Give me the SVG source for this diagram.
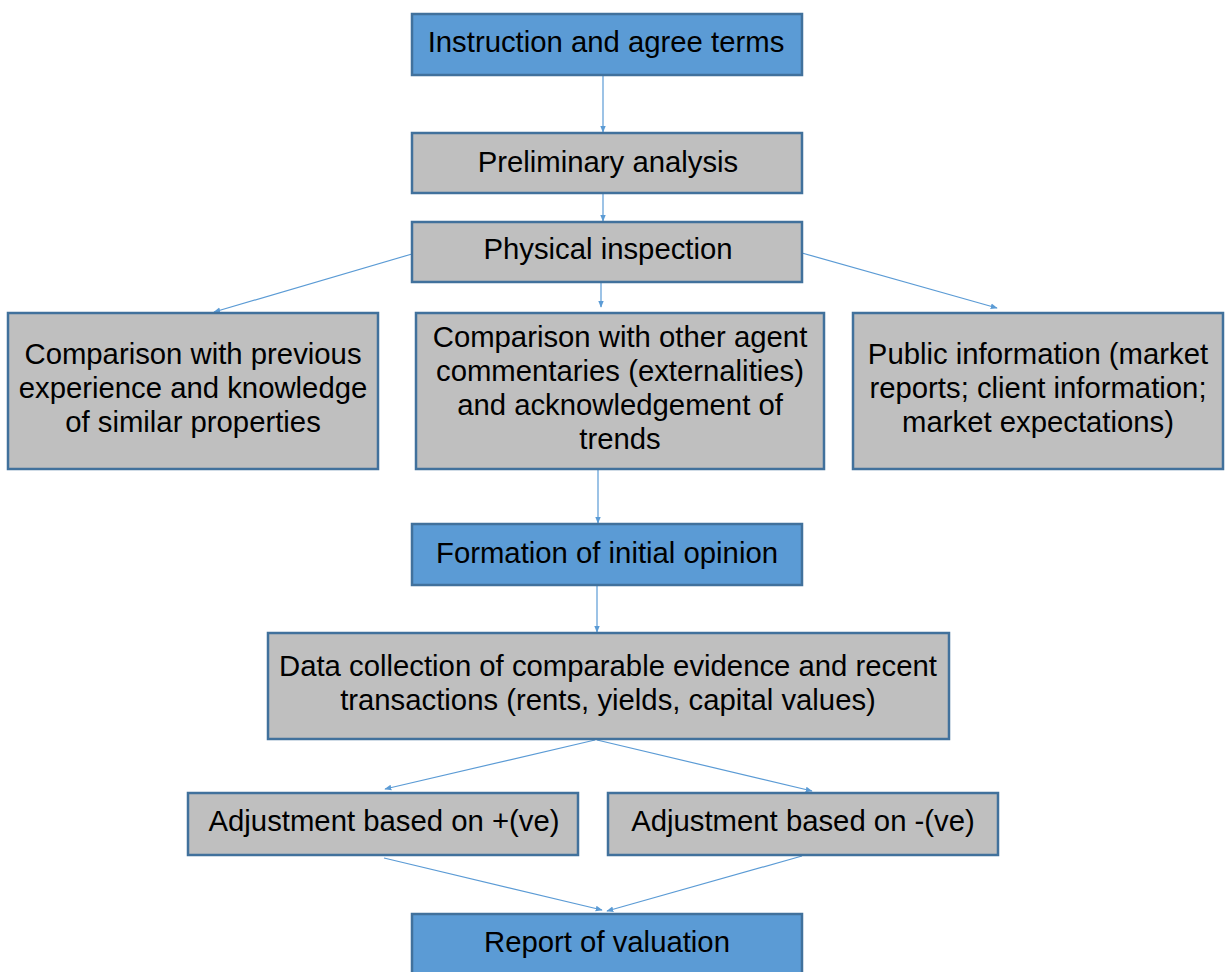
<svg xmlns="http://www.w3.org/2000/svg" width="1229" height="972" viewBox="0 0 1229 972">
  <style>
    .box rect { stroke: #41719c; stroke-width: 2.5; }
    .blue rect { fill: #5b9bd5; }
    .grey rect { fill: #bfbfbf; }
    text { font-family: "Liberation Sans", Arial, sans-serif; font-size: 29.3px; fill: #000; text-anchor: middle; }
    .conn line { stroke: #5b9bd5; stroke-width: 1.2; fill: none; marker-end: url(#arr); }
  </style>
  <defs>
    <marker id="arr" viewBox="0 0 10 10" refX="9" refY="5" markerWidth="7" markerHeight="7" orient="auto" markerUnits="userSpaceOnUse">
      <path d="M0,1 L10,5 L0,9 Z" fill="#5b9bd5"/>
    </marker>
  </defs>
  <rect width="1229" height="972" fill="#fff"/>

  <g class="conn">
    <line x1="603" y1="76" x2="603" y2="132"/>
    <line x1="603" y1="194" x2="603" y2="221"/>
    <line x1="412" y1="254" x2="214" y2="312"/>
    <line x1="601" y1="283" x2="601" y2="307"/>
    <line x1="802" y1="253" x2="997" y2="308"/>
    <line x1="598" y1="470" x2="598" y2="523"/>
    <line x1="597" y1="586" x2="597" y2="632"/>
    <line x1="595" y1="740" x2="385" y2="789"/>
    <line x1="597" y1="740" x2="812" y2="791"/>
    <line x1="384" y1="858" x2="602" y2="910"/>
    <line x1="802" y1="856" x2="607" y2="911"/>
  </g>

  <g id="instruction" class="box blue">
    <rect x="412" y="14" width="390" height="61"/>
    <text x="606" y="52">Instruction and agree terms</text>
  </g>
  <g id="preliminary" class="box grey">
    <rect x="412" y="133" width="390" height="60"/>
    <text x="608" y="172">Preliminary analysis</text>
  </g>
  <g id="inspection" class="box grey">
    <rect x="412" y="222" width="390" height="60"/>
    <text x="608" y="259">Physical inspection</text>
  </g>
  <g id="previous-experience" class="box grey">
    <rect x="8" y="313" width="370" height="156"/>
    <text x="193" y="364">Comparison with previous</text>
    <text x="193" y="398">experience and knowledge</text>
    <text x="193" y="432">of similar properties</text>
  </g>
  <g id="agent-commentaries" class="box grey">
    <rect x="416" y="313" width="408" height="156"/>
    <text x="620" y="347">Comparison with other agent</text>
    <text x="620" y="381">commentaries (externalities)</text>
    <text x="620" y="415">and acknowledgement of</text>
    <text x="620" y="449">trends</text>
  </g>
  <g id="public-information" class="box grey">
    <rect x="853" y="313" width="370" height="156"/>
    <text x="1038" y="364">Public information (market</text>
    <text x="1038" y="398">reports; client information;</text>
    <text x="1038" y="432">market expectations)</text>
  </g>
  <g id="initial-opinion" class="box blue">
    <rect x="412" y="524" width="390" height="61"/>
    <text x="607" y="563">Formation of initial opinion</text>
  </g>
  <g id="data-collection" class="box grey">
    <rect x="268" y="633" width="681" height="106"/>
    <text x="608" y="676">Data collection of comparable evidence and recent</text>
    <text x="608" y="710">transactions (rents, yields, capital values)</text>
  </g>
  <g id="adjust-positive" class="box grey">
    <rect x="188" y="793" width="390" height="62"/>
    <text x="384" y="831">Adjustment based on +(ve)</text>
  </g>
  <g id="adjust-negative" class="box grey">
    <rect x="608" y="793" width="390" height="62"/>
    <text x="803" y="831">Adjustment based on -(ve)</text>
  </g>
  <g id="report" class="box blue">
    <rect x="412" y="914" width="390" height="70"/>
    <text x="607" y="952">Report of valuation</text>
  </g>
</svg>
